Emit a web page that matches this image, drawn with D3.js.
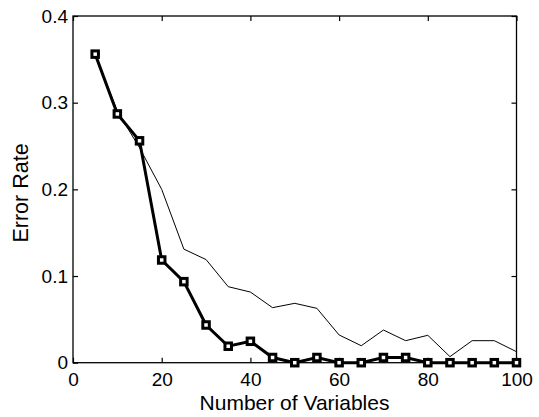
<!DOCTYPE html>
<html><head><meta charset="utf-8">
<script src="https://cdn.jsdelivr.net/npm/d3@7"></script>
<style>body{margin:0;background:#fff}svg{display:block}text{font-family:"Liberation Sans",Arial,sans-serif;fill:#000}</style>
</head><body><svg id="c" width="539" height="417"></svg>
<script>
const xVals = [5,10,15,20,25,30,35,40,45,50,55,60,65,70,75,80,85,90,95,100];
const thickSeries = [0.356,0.287,0.256,0.1185,0.0935,0.0435,0.019,0.0247,0.006,0,0.006,0,0,0.006,0.006,0,0,0,0,0];
const thinSeries = [0.356,0.29,0.248,0.2,0.131,0.119,0.0877,0.0815,0.0635,0.0685,0.0627,0.032,0.0196,0.0377,0.0254,0.0316,0.007,0.0254,0.0254,0.0127];
const xTicks = [0,20,40,60,80,100];
const yTicks = [0,0.1,0.2,0.3,0.4];
const xLabel = "Number of Variables";
const yLabel = "Error Rate";

const svg = d3.select("#c");
const L=73, R=516.5, T=16, B=362.7;
const x = d3.scaleLinear().domain([0,100]).range([L,R]);
const y = d3.scaleLinear().domain([0,0.4]).range([B,T]);
const tl = 5;

svg.append("rect").attr("x",L).attr("y",T).attr("width",R-L).attr("height",B-T)
 .attr("fill","none").attr("stroke","#000").attr("stroke-width",1.3);

const xb = svg.append("g").attr("transform",`translate(0,${B})`)
  .call(d3.axisBottom(x).tickValues(xTicks).tickSizeInner(-tl).tickSizeOuter(0).tickPadding(10).tickFormat(d3.format("d")));
const xt = svg.append("g").attr("transform",`translate(0,${T})`)
  .call(d3.axisTop(x).tickValues(xTicks).tickSizeInner(-tl).tickSizeOuter(0).tickFormat(""));
const yl = svg.append("g").attr("transform",`translate(${L},0)`)
  .call(d3.axisLeft(y).tickValues(yTicks).tickSizeInner(-tl).tickSizeOuter(0).tickPadding(5).tickFormat(d=>d===0?"0":d3.format(".1f")(d)));
const yr = svg.append("g").attr("transform",`translate(${R},0)`)
  .call(d3.axisRight(y).tickValues(yTicks).tickSizeInner(-tl).tickSizeOuter(0).tickFormat(""));
[xb,xt,yl,yr].forEach(a=>{a.select(".domain").remove();a.selectAll("line").attr("stroke","#000").attr("stroke-width",1.2);
  a.selectAll("text").attr("font-size",19).attr("font-family","Liberation Sans, Arial, sans-serif").attr("fill","#000");});

const line = d3.line().x((d,i)=>x(xVals[i])).y(d=>y(d));
svg.append("path").datum(thinSeries).attr("d",line).attr("fill","none").attr("stroke","#000").attr("stroke-width",1);
svg.append("path").datum(thickSeries).attr("d",line).attr("fill","none").attr("stroke","#000").attr("stroke-width",3);
const s=6.5;
svg.append("g").selectAll("rect").data(thickSeries).join("rect")
  .attr("x",(d,i)=>x(xVals[i])-s/2).attr("y",d=>y(d)-s/2).attr("width",s).attr("height",s)
  .attr("fill","#fff").attr("stroke","#000").attr("stroke-width",3);

svg.append("text").attr("x",294.5).attr("y",410).attr("text-anchor","middle").attr("font-size",21).text(xLabel);
svg.append("text").attr("transform",`translate(27.5,193) rotate(-90)`).attr("text-anchor","middle").attr("font-size",21.5).text(yLabel);
</script></body></html>
